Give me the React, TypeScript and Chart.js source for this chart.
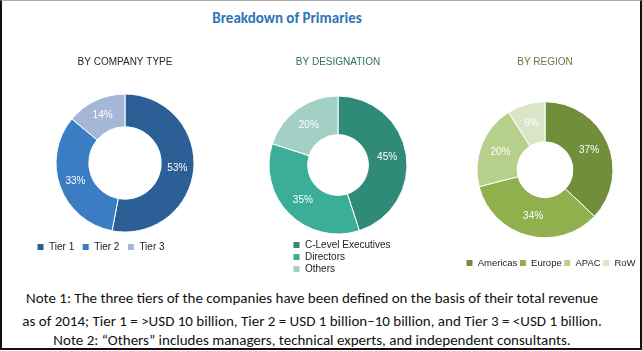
import { useEffect, useRef } from "react";
import { Chart, registerables } from "chart.js";

Chart.register(...registerables);

// ---- data ----
const mainTitle = "Breakdown of Primaries";
const companyTitle = "BY COMPANY TYPE";
const companyLabels = ["Tier 1", "Tier 2", "Tier 3"];
const companyValues = [53, 33, 14];
const designationTitle = "BY DESIGNATION";
const designationLabels = ["C-Level Executives", "Directors", "Others"];
const designationValues = [45, 35, 20];
const regionTitle = "BY REGION";
const regionLabels = ["Americas", "Europe", "APAC", "RoW"];
const regionValues = [37, 34, 20, 9];
const noteLines = [
  "Note 1: The three tiers of the companies have been defined on the basis of their total revenue",
  "as of 2014;  Tier 1 = >USD 10 billion, Tier 2 = USD 1 billion\u201310 billion, and Tier 3 = <USD 1 billion.",
  "Note 2: \u201cOthers\u201d includes managers, technical experts, and independent consultants.",
];

const companyColors = ["#2D5F97", "#3B7DC3", "#A5B7D7"];
const designationColors = ["#2F8A78", "#3BAE97", "#A3D0C5"];
const regionColors = ["#718E3B", "#8FB04C", "#B6D08C", "#D9E5C6"];

const LABEL_FONT = '"Liberation Sans", Arial, sans-serif';
const AXIS_FONT = '"Liberation Sans", Arial, sans-serif';
const TEXT_FONT = "Carlito, Lato, 'Open Sans', sans-serif";

// percentage labels inside arcs
const pctLabels = {
  id: "pctLabels",
  afterDatasetsDraw(chart: any, _args: any, opts: any) {
    const ctx = chart.ctx;
    const meta = chart.getDatasetMeta(0);
    const values = chart.data.datasets[0].data;
    ctx.save();
    ctx.font = opts.font || `10px ${LABEL_FONT}`;
    ctx.fillStyle = opts.color || "#fff";
    ctx.textAlign = "center";
    ctx.textBaseline = "middle";
    meta.data.forEach((arc: any, i: number) => {
      const p = arc.tooltipPosition(false);
      ctx.fillText(values[i] + "%", p.x, p.y);
    });
    ctx.restore();
  },
};

// move the legend box so that its first item starts at (x, y-centre)
const placeLegend = {
  id: "placeLegend",
  beforeDraw(chart: any, _args: any, opts: any) {
    const lg = chart.legend;
    if (!lg || !opts || opts.x == null) return;
    const pad = lg.options.labels.padding;
    const half = (lg.options.labels.font?.size || 10) / 2;
    lg.left = opts.x - pad;
    lg.top = opts.y - half - pad;
    lg.right = lg.left + (opts.w || 200);
    lg.bottom = lg.top + (opts.h || 60);
  },
};

type DonutProps = {
  labels: string[];
  values: number[];
  colors: string[];
  title: string;
  titleColor: string;
  left: number;
  top: number;
  width: number;
  height: number;
  radius: number;
  cutout: number;
  titleGap: number;
  legendPad: number;
  legendPos: string;
  legendFontSize: number;
  layoutPadding: any;
  place: any;
};

function Donut(p: DonutProps) {
  const ref = useRef<HTMLCanvasElement | null>(null);
  useEffect(() => {
    if (!ref.current) return;
    const chart = new Chart(ref.current, {
      type: "doughnut",
      data: {
        labels: p.labels,
        datasets: [
          {
            data: p.values,
            backgroundColor: p.colors,
            borderColor: "#ffffff",
            borderWidth: 1,
          },
        ],
      },
      options: {
        animation: false,
        responsive: false,
        radius: p.radius,
        cutout: p.cutout,
        layout: { padding: p.layoutPadding },
        plugins: {
          title: {
            display: true,
            text: p.title,
            color: p.titleColor,
            font: { family: AXIS_FONT, size: 10, weight: "normal" },
            padding: { top: 6, bottom: p.titleGap },
          },
          legend: {
            position: p.legendPos,
            align: "start",
            labels: {
              boxWidth: 7,
              boxHeight: 7,
              padding: p.legendPad,
              color: "#222222",
              font: { family: AXIS_FONT, size: p.legendFontSize },
            },
          },
          tooltip: { enabled: false },
          pctLabels: { color: "#ffffff", font: `10px ${LABEL_FONT}` },
          placeLegend: p.place,
        },
      } as any,
      plugins: [pctLabels, placeLegend],
    } as any);
    return () => chart.destroy();
  }, []);
  return (
    <canvas
      ref={ref}
      width={p.width}
      height={p.height}
      style={{ position: "absolute", left: p.left, top: p.top, width: p.width, height: p.height }}
    />
  );
}

export default function App() {
  const noteTops = [288, 311, 330];
  return (
    <div
      style={{
        position: "fixed",
        left: 0,
        top: 0,
        width: 642,
        height: 350,
        boxSizing: "border-box",
        background: "#ffffff",
        borderLeft: "2px solid #111",
        borderRight: "2px solid #111",
        borderBottom: "2px solid #111",
        borderTop: "1px solid #aaa",
        overflow: "hidden",
      }}
    >
      <div
        style={{
          position: "absolute",
          left: 0,
          top: 7,
          width: 570,
          textAlign: "center",
          fontFamily: TEXT_FONT,
          fontWeight: 700,
          fontSize: 15,
          color: "#2E75B6",
          lineHeight: "20px",
        }}
      >
        {mainTitle}
      </div>
      <Donut
        labels={companyLabels}
        values={companyValues}
        colors={companyColors}
        title={companyTitle}
        titleColor="#262626"
        left={18}
        top={49}
        width={210}
        height={212}
        radius={69}
        cutout={37}
        titleGap={24}
        legendPad={8}
        legendPos="bottom"
        legendFontSize={10}
        layoutPadding={0}
        place={{ x: 17, y: 197, w: 190, h: 30 }}
      />
      <Donut
        labels={designationLabels}
        values={designationValues}
        colors={designationColors}
        title={designationTitle}
        titleColor="#2F6F63"
        left={256}
        top={49}
        width={160}
        height={230}
        radius={69}
        cutout={35}
        titleGap={12}
        legendPad={2}
        legendPos="chartArea"
        legendFontSize={10}
        layoutPadding={{ bottom: 30 }}
        place={{ x: 35, y: 195, w: 120, h: 60 }}
      />
      <Donut
        labels={regionLabels}
        values={regionValues}
        colors={regionColors}
        title={regionTitle}
        titleColor="#6B7A3A"
        left={436}
        top={49}
        width={214}
        height={227}
        radius={68}
        cutout={35}
        titleGap={16}
        legendPad={2}
        legendPos="bottom"
        legendFontSize={9.5}
        layoutPadding={0}
        place={{ x: 28, y: 213, w: 190, h: 30 }}
      />
      {noteLines.map((t, i) => (
        <div
          key={i}
          style={{
            position: "absolute",
            left: 0,
            width: 620,
            top: noteTops[i],
            textAlign: "center",
            fontFamily: TEXT_FONT,
            fontSize: 15,
            lineHeight: "18px",
            color: "#111",
            whiteSpace: "nowrap",
          }}
        >
          {t}
        </div>
      ))}
    </div>
  );
}
